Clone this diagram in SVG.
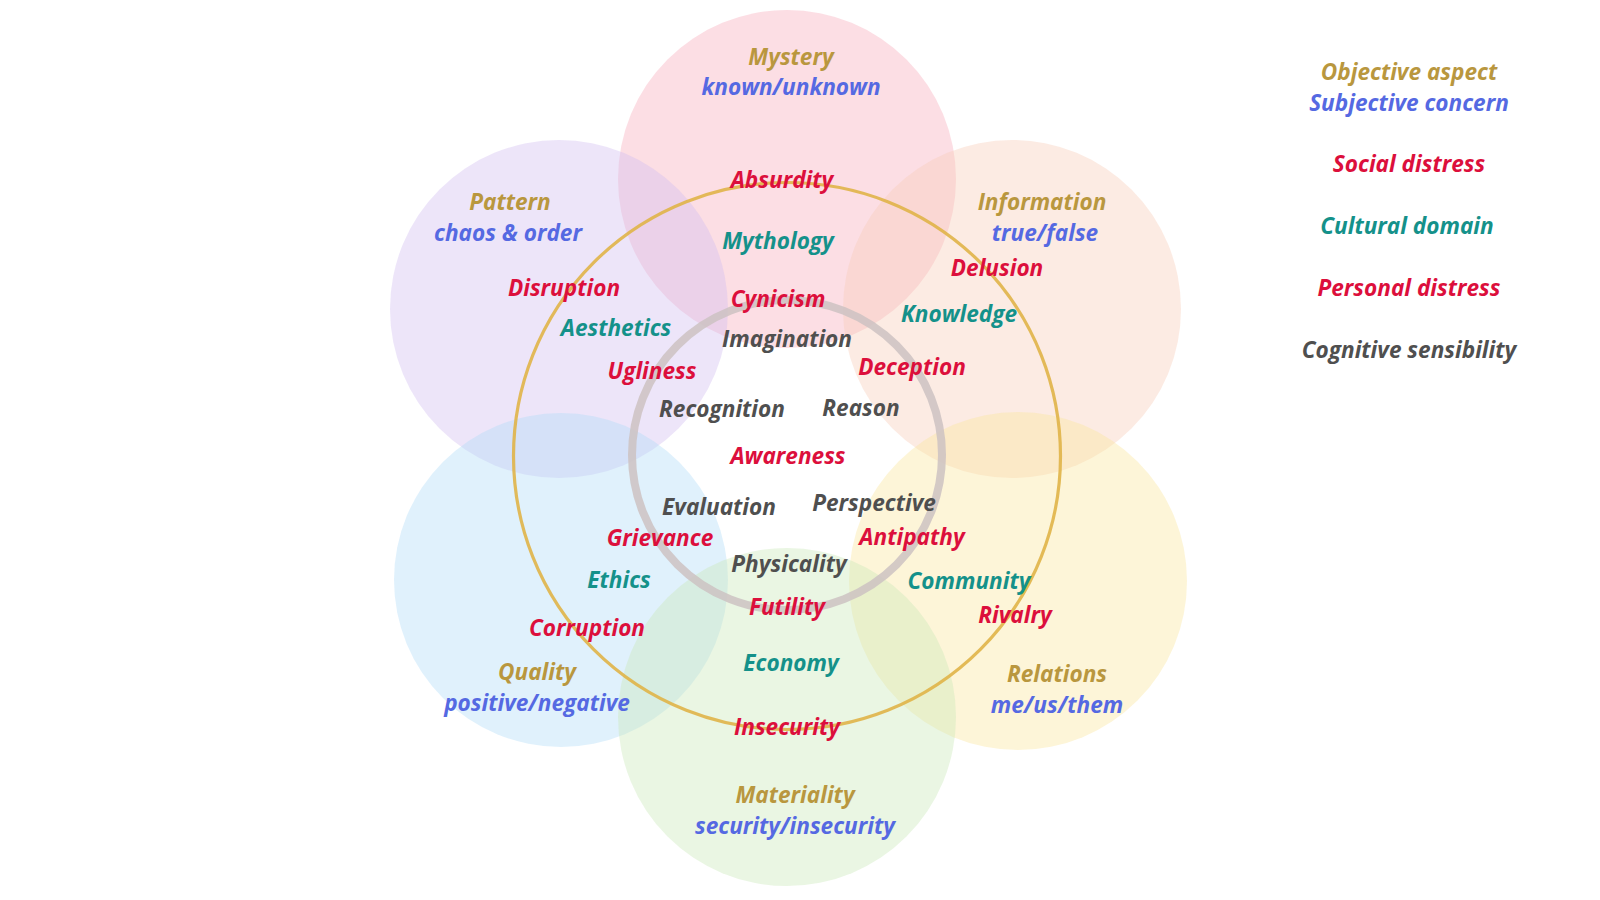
<svg xmlns="http://www.w3.org/2000/svg" width="1600" height="900" viewBox="0 0 1600 900">
<style>
.c{fill-opacity:0.4}
text{font-family:"Open Sans","Noto Sans","Liberation Sans",sans-serif;font-weight:700;font-style:italic;font-size:22.6px;text-anchor:middle}
.o{fill:#b9973e}
.s{fill:#5569e2}
.r{fill:#dc0f3c}
.t{fill:#14918a}
.g{fill:#4f4f4f}
</style>
<rect width="1600" height="900" fill="#ffffff"/>
<g id="circles">
<circle id="c-mystery" class="c" cx="787" cy="179" r="169" fill="#f8acbc"/>
<circle id="c-pattern" class="c" cx="559" cy="309" r="169" fill="#d2bef0"/>
<circle id="c-information" class="c" cx="1012" cy="309" r="169" fill="#f8cdb9"/>
<circle id="c-quality" class="c" cx="561" cy="580" r="167" fill="#b2dcf8"/>
<circle id="c-relations" class="c" cx="1018" cy="581" r="169" fill="#fae69e"/>
<circle id="c-materiality" class="c" cx="787" cy="717" r="169" fill="#cae8b9"/>
</g>
<g id="rings" fill="none">
<circle cx="787" cy="456" r="273.5" stroke="#e0b448" stroke-width="3.2" stroke-opacity="0.9"/>
<circle cx="787" cy="455" r="155" stroke="#cdc2c2" stroke-width="8" stroke-opacity="0.85"/>
</g>
<g id="mystery">
<text class="o" x="791" y="65">Mystery</text>
<text class="s" x="791" y="95">known/unknown</text>
<text class="r" x="782" y="188">Absurdity</text>
<text class="t" x="778" y="249">Mythology</text>
<text class="r" x="778" y="307">Cynicism</text>
<text class="g" x="787" y="347">Imagination</text>
</g>
<g id="pattern">
<text class="o" x="510" y="210">Pattern</text>
<text class="s" x="508" y="241">chaos &amp; order</text>
<text class="r" x="564" y="296">Disruption</text>
<text class="t" x="616" y="336">Aesthetics</text>
<text class="r" x="652" y="379">Ugliness</text>
<text class="g" x="722" y="417">Recognition</text>
</g>
<g id="information">
<text class="o" x="1042" y="210">Information</text>
<text class="s" x="1045" y="241">true/false</text>
<text class="r" x="997" y="276">Delusion</text>
<text class="t" x="959" y="322">Knowledge</text>
<text class="r" x="912" y="375">Deception</text>
<text class="g" x="861" y="416">Reason</text>
</g>
<g id="center">
<text class="r" x="788" y="464">Awareness</text>
</g>
<g id="quality">
<text class="g" x="719" y="515">Evaluation</text>
<text class="r" x="660" y="546">Grievance</text>
<text class="t" x="619" y="588">Ethics</text>
<text class="r" x="587" y="636">Corruption</text>
<text class="o" x="537" y="680">Quality</text>
<text class="s" x="537" y="711">positive/negative</text>
</g>
<g id="relations">
<text class="g" x="874" y="511">Perspective</text>
<text class="r" x="912" y="545">Antipathy</text>
<text class="t" x="969" y="589">Community</text>
<text class="r" x="1015" y="623">Rivalry</text>
<text class="o" x="1057" y="682">Relations</text>
<text class="s" x="1057" y="713">me/us/them</text>
</g>
<g id="materiality">
<text class="g" x="789" y="572">Physicality</text>
<text class="r" x="787" y="615">Futility</text>
<text class="t" x="791" y="671">Economy</text>
<text class="r" x="787" y="735">Insecurity</text>
<text class="o" x="795" y="803">Materiality</text>
<text class="s" x="795" y="834">security/insecurity</text>
</g>
<g id="legend">
<text class="o" x="1409" y="80">Objective aspect</text>
<text class="s" x="1409" y="111">Subjective concern</text>
<text class="r" x="1409" y="172">Social distress</text>
<text class="t" x="1407" y="234">Cultural domain</text>
<text class="r" x="1409" y="296">Personal distress</text>
<text class="g" x="1409" y="358">Cognitive sensibility</text>
</g>
</svg>
